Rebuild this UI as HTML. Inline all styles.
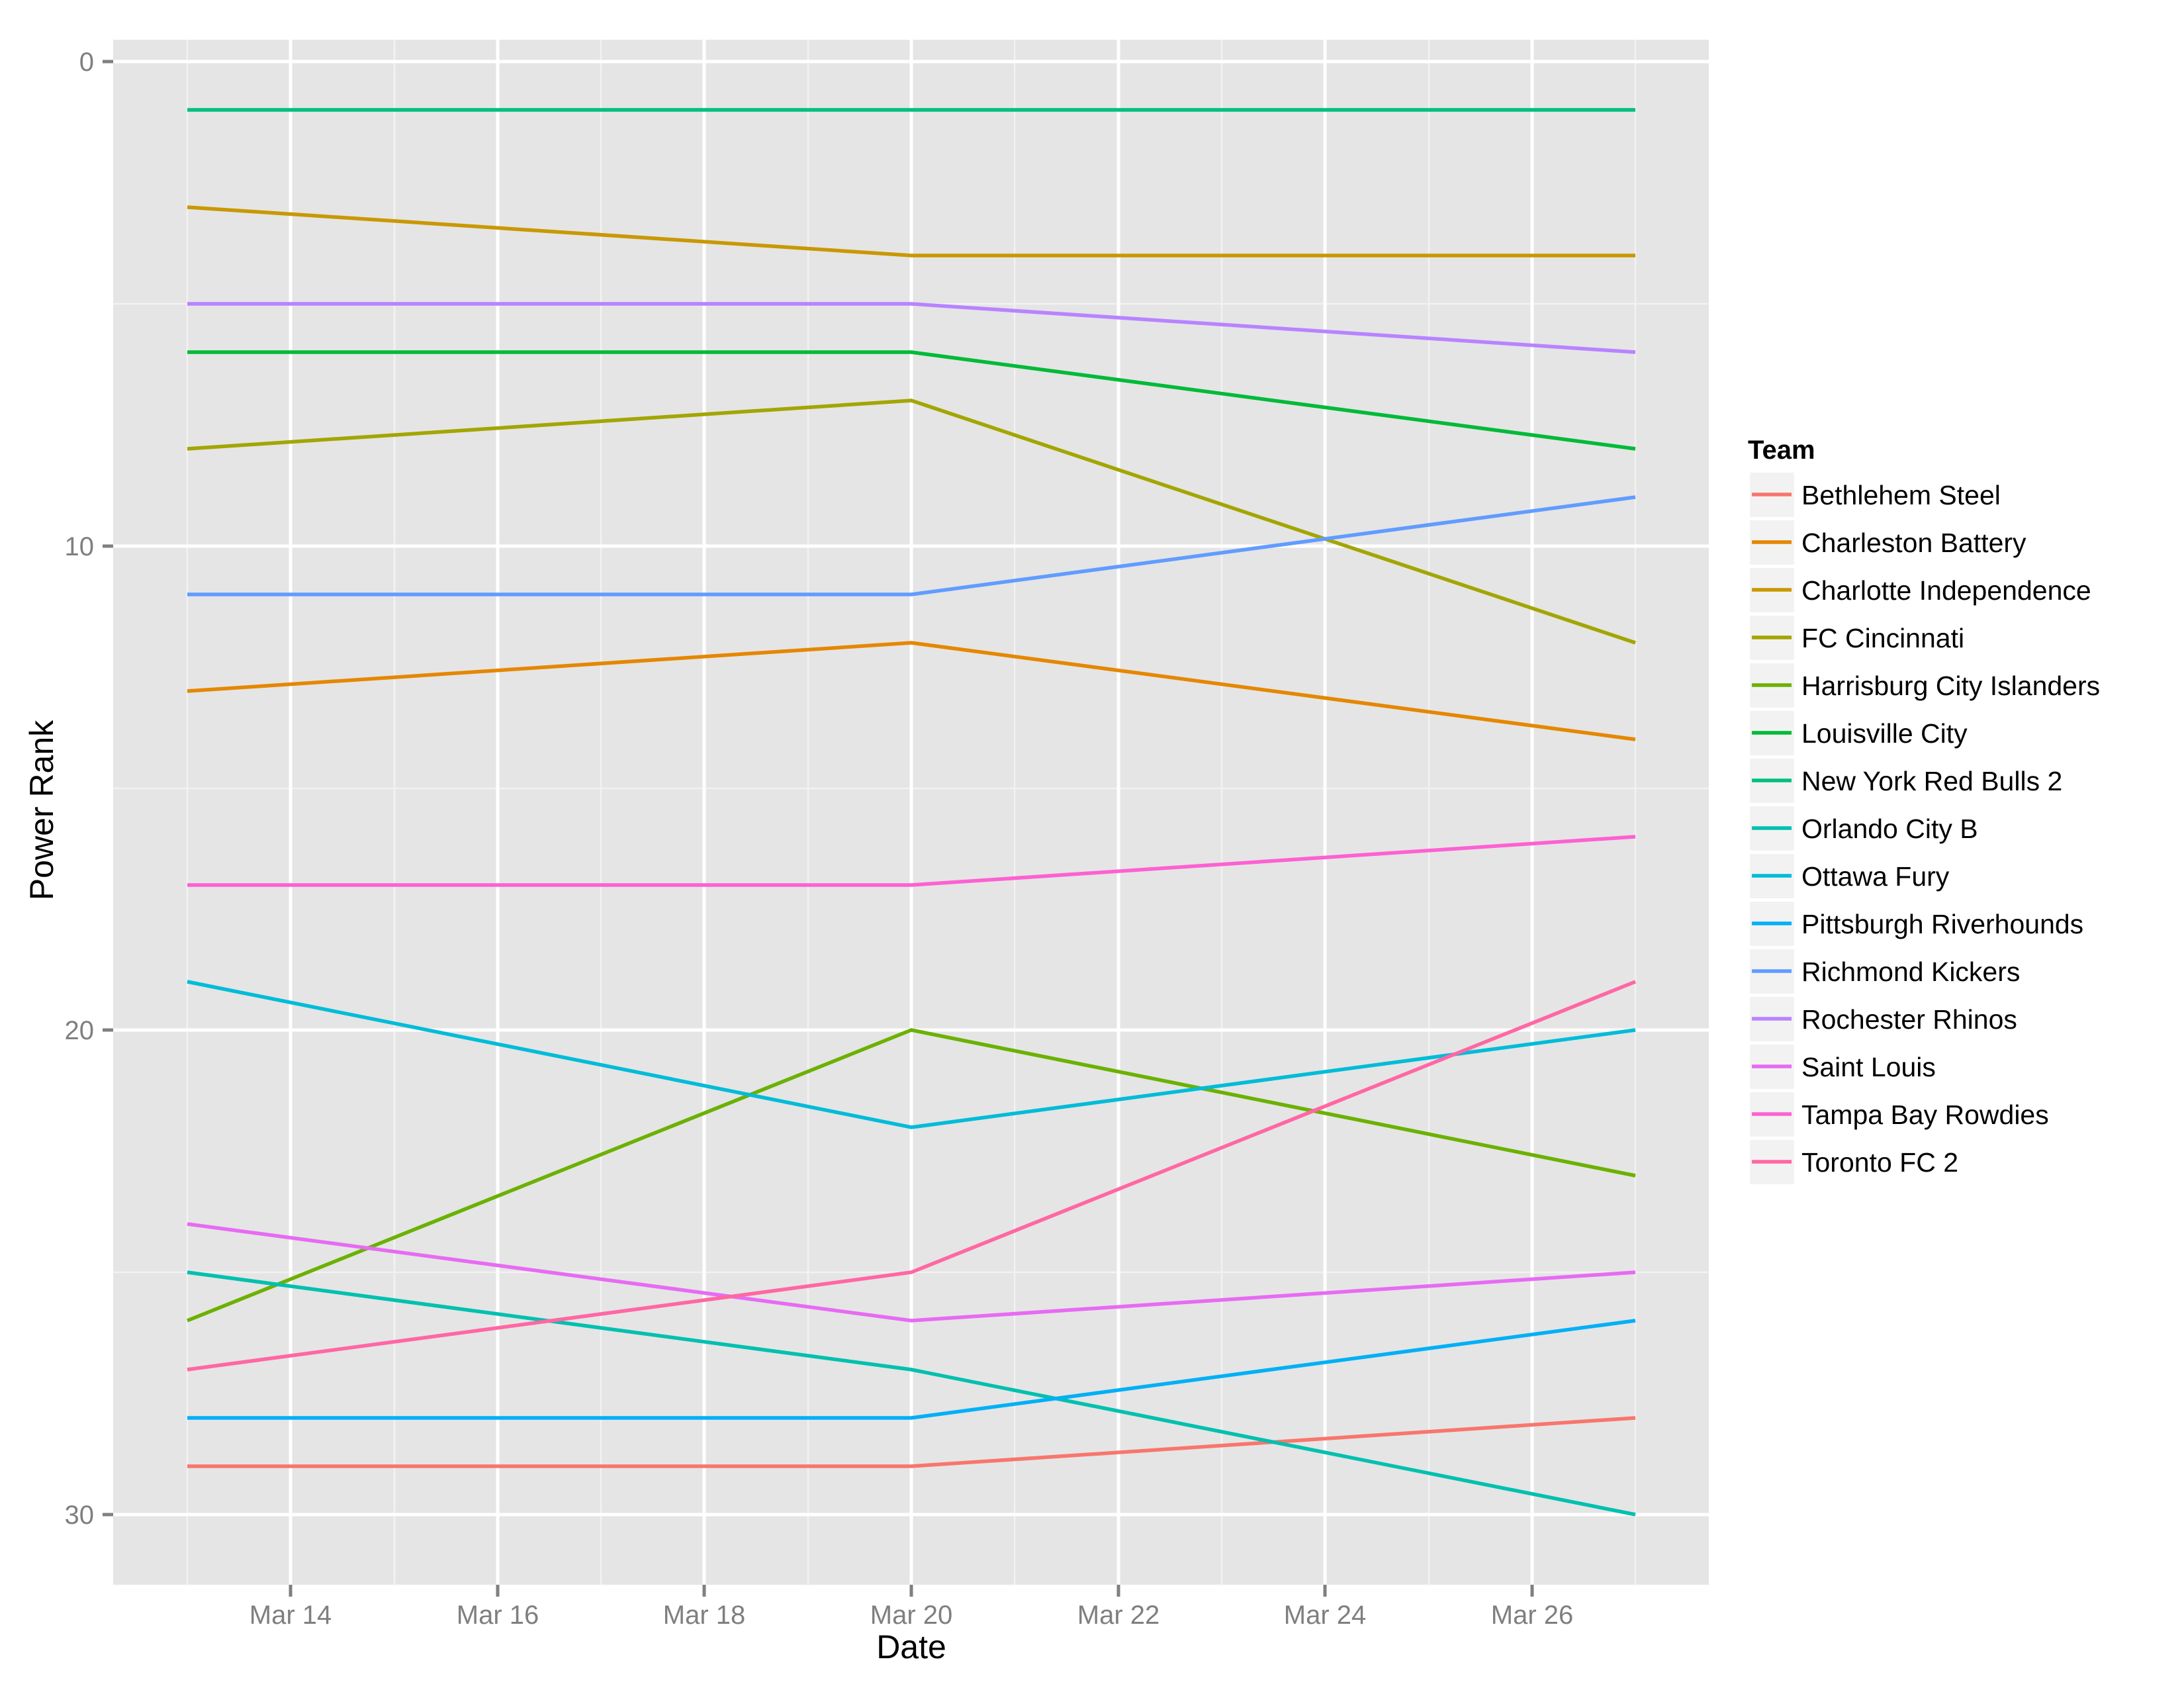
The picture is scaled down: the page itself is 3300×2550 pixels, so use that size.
<!DOCTYPE html>
<html><head><meta charset="utf-8"><style>html,body{margin:0;padding:0;background:#fff}svg{display:block}</style></head>
<body>
<svg xmlns="http://www.w3.org/2000/svg" width="3300" height="2550" viewBox="0 0 3300 2550" font-family="Liberation Sans, Arial, sans-serif">
<rect width="3300" height="2550" fill="#fff"/>
<rect x="171" y="60" width="2411" height="2334" fill="#e5e5e5"/>
<g stroke="#f2f2f2" stroke-width="2.5">
<line x1="171" x2="2582" y1="459" y2="459"/><line x1="171" x2="2582" y1="1191" y2="1191"/><line x1="171" x2="2582" y1="1922" y2="1922"/>
<line y1="60" y2="2394" x1="283" x2="283"/><line y1="60" y2="2394" x1="596" x2="596"/><line y1="60" y2="2394" x1="908" x2="908"/><line y1="60" y2="2394" x1="1221" x2="1221"/><line y1="60" y2="2394" x1="1533" x2="1533"/><line y1="60" y2="2394" x1="1846" x2="1846"/><line y1="60" y2="2394" x1="2159" x2="2159"/><line y1="60" y2="2394" x1="2471" x2="2471"/>
</g>
<g stroke="#fff" stroke-width="5">
<line x1="171" x2="2582" y1="93" y2="93"/><line x1="171" x2="2582" y1="825" y2="825"/><line x1="171" x2="2582" y1="1556" y2="1556"/><line x1="171" x2="2582" y1="2288" y2="2288"/>
<line y1="60" y2="2394" x1="439" x2="439"/><line y1="60" y2="2394" x1="752" x2="752"/><line y1="60" y2="2394" x1="1064" x2="1064"/><line y1="60" y2="2394" x1="1377" x2="1377"/><line y1="60" y2="2394" x1="1690" x2="1690"/><line y1="60" y2="2394" x1="2002" x2="2002"/><line y1="60" y2="2394" x1="2315" x2="2315"/>
</g>
<g stroke="#7f7f7f" stroke-width="5">
<line x1="155" x2="171" y1="93" y2="93"/><line x1="155" x2="171" y1="825" y2="825"/><line x1="155" x2="171" y1="1556" y2="1556"/><line x1="155" x2="171" y1="2288" y2="2288"/>
<line y1="2394" y2="2412" x1="439" x2="439"/><line y1="2394" y2="2412" x1="752" x2="752"/><line y1="2394" y2="2412" x1="1064" x2="1064"/><line y1="2394" y2="2412" x1="1377" x2="1377"/><line y1="2394" y2="2412" x1="1690" x2="1690"/><line y1="2394" y2="2412" x1="2002" x2="2002"/><line y1="2394" y2="2412" x1="2315" x2="2315"/>
</g>
<g fill="#7f7f7f" font-size="40" text-anchor="end">
<text x="142" y="107">0</text><text x="142" y="839">10</text><text x="142" y="1570">20</text><text x="142" y="2302">30</text>
</g>
<g fill="#7f7f7f" font-size="40" text-anchor="middle">
<text x="439" y="2453">Mar 14</text><text x="752" y="2453">Mar 16</text><text x="1064" y="2453">Mar 18</text><text x="1377" y="2453">Mar 20</text><text x="1690" y="2453">Mar 22</text><text x="2002" y="2453">Mar 24</text><text x="2315" y="2453">Mar 26</text>
</g>
<text x="1377" y="2505" font-size="50" text-anchor="middle" fill="#000">Date</text>
<text transform="translate(80,1224) rotate(-90)" font-size="50" text-anchor="middle" fill="#000">Power Rank</text>
<g fill="none" stroke-width="5.5">
<polyline stroke="#F8766D" points="283,2215 1377,2215 2471,2142"/>
<polyline stroke="#E58700" points="283,1044 1377,971 2471,1117"/>
<polyline stroke="#C99800" points="283,313 1377,386 2471,386"/>
<polyline stroke="#A3A500" points="283,678 1377,605 2471,971"/>
<polyline stroke="#6BB100" points="283,1995 1377,1556 2471,1776"/>
<polyline stroke="#00BA38" points="283,532 1377,532 2471,678"/>
<polyline stroke="#00BF7D" points="283,166 1377,166 2471,166"/>
<polyline stroke="#00C0AF" points="283,1922 1377,2069 2471,2288"/>
<polyline stroke="#00BCD8" points="283,1483 1377,1703 2471,1556"/>
<polyline stroke="#00B0F6" points="283,2142 1377,2142 2471,1995"/>
<polyline stroke="#619CFF" points="283,898 1377,898 2471,751"/>
<polyline stroke="#B983FF" points="283,459 1377,459 2471,532"/>
<polyline stroke="#E76BF3" points="283,1849 1377,1995 2471,1922"/>
<polyline stroke="#FD61D1" points="283,1337 1377,1337 2471,1264"/>
<polyline stroke="#FF67A4" points="283,2069 1377,1922 2471,1483"/>
</g>
<text x="2641" y="693" font-size="40" font-weight="bold" fill="#000">Team</text>
<g font-size="41" fill="#000">
<g transform="translate(0,0)"><rect x="2644" y="714" width="67" height="67" fill="#f2f2f2"/><line x1="2647" x2="2707" y1="747" y2="747" stroke="#F8766D" stroke-width="5.5"/><text x="2722" y="762">Bethlehem Steel</text></g>
<g transform="translate(0,72)"><rect x="2644" y="714" width="67" height="67" fill="#f2f2f2"/><line x1="2647" x2="2707" y1="747" y2="747" stroke="#E58700" stroke-width="5.5"/><text x="2722" y="762">Charleston Battery</text></g>
<g transform="translate(0,144)"><rect x="2644" y="714" width="67" height="67" fill="#f2f2f2"/><line x1="2647" x2="2707" y1="747" y2="747" stroke="#C99800" stroke-width="5.5"/><text x="2722" y="762">Charlotte Independence</text></g>
<g transform="translate(0,216)"><rect x="2644" y="714" width="67" height="67" fill="#f2f2f2"/><line x1="2647" x2="2707" y1="747" y2="747" stroke="#A3A500" stroke-width="5.5"/><text x="2722" y="762">FC Cincinnati</text></g>
<g transform="translate(0,288)"><rect x="2644" y="714" width="67" height="67" fill="#f2f2f2"/><line x1="2647" x2="2707" y1="747" y2="747" stroke="#6BB100" stroke-width="5.5"/><text x="2722" y="762">Harrisburg City Islanders</text></g>
<g transform="translate(0,360)"><rect x="2644" y="714" width="67" height="67" fill="#f2f2f2"/><line x1="2647" x2="2707" y1="747" y2="747" stroke="#00BA38" stroke-width="5.5"/><text x="2722" y="762">Louisville City</text></g>
<g transform="translate(0,432)"><rect x="2644" y="714" width="67" height="67" fill="#f2f2f2"/><line x1="2647" x2="2707" y1="747" y2="747" stroke="#00BF7D" stroke-width="5.5"/><text x="2722" y="762">New York Red Bulls 2</text></g>
<g transform="translate(0,504)"><rect x="2644" y="714" width="67" height="67" fill="#f2f2f2"/><line x1="2647" x2="2707" y1="747" y2="747" stroke="#00C0AF" stroke-width="5.5"/><text x="2722" y="762">Orlando City B</text></g>
<g transform="translate(0,576)"><rect x="2644" y="714" width="67" height="67" fill="#f2f2f2"/><line x1="2647" x2="2707" y1="747" y2="747" stroke="#00BCD8" stroke-width="5.5"/><text x="2722" y="762">Ottawa Fury</text></g>
<g transform="translate(0,648)"><rect x="2644" y="714" width="67" height="67" fill="#f2f2f2"/><line x1="2647" x2="2707" y1="747" y2="747" stroke="#00B0F6" stroke-width="5.5"/><text x="2722" y="762">Pittsburgh Riverhounds</text></g>
<g transform="translate(0,720)"><rect x="2644" y="714" width="67" height="67" fill="#f2f2f2"/><line x1="2647" x2="2707" y1="747" y2="747" stroke="#619CFF" stroke-width="5.5"/><text x="2722" y="762">Richmond Kickers</text></g>
<g transform="translate(0,792)"><rect x="2644" y="714" width="67" height="67" fill="#f2f2f2"/><line x1="2647" x2="2707" y1="747" y2="747" stroke="#B983FF" stroke-width="5.5"/><text x="2722" y="762">Rochester Rhinos</text></g>
<g transform="translate(0,864)"><rect x="2644" y="714" width="67" height="67" fill="#f2f2f2"/><line x1="2647" x2="2707" y1="747" y2="747" stroke="#E76BF3" stroke-width="5.5"/><text x="2722" y="762">Saint Louis</text></g>
<g transform="translate(0,936)"><rect x="2644" y="714" width="67" height="67" fill="#f2f2f2"/><line x1="2647" x2="2707" y1="747" y2="747" stroke="#FD61D1" stroke-width="5.5"/><text x="2722" y="762">Tampa Bay Rowdies</text></g>
<g transform="translate(0,1008)"><rect x="2644" y="714" width="67" height="67" fill="#f2f2f2"/><line x1="2647" x2="2707" y1="747" y2="747" stroke="#FF67A4" stroke-width="5.5"/><text x="2722" y="762">Toronto FC 2</text></g>
</g>
</svg>
</body></html>
